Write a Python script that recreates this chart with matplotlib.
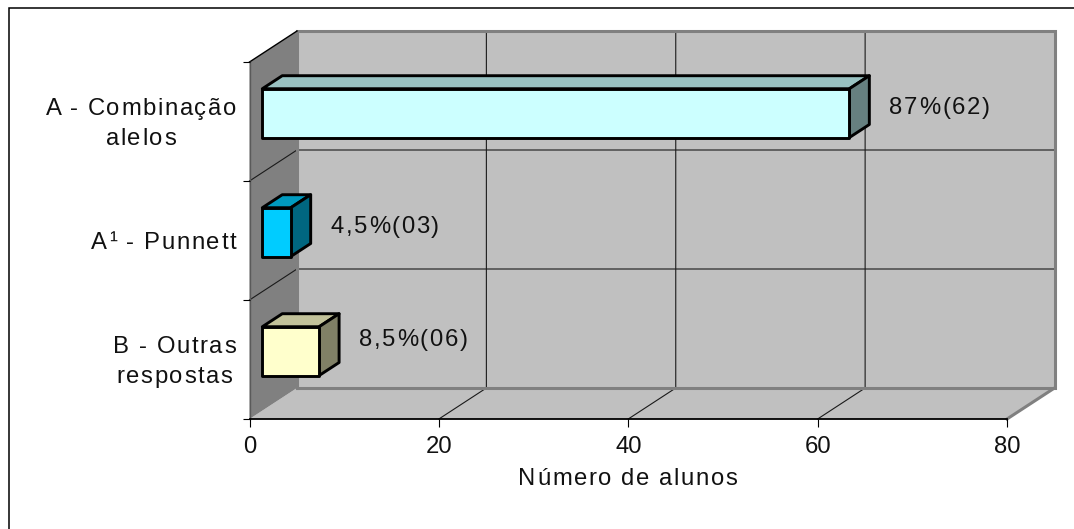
import matplotlib
matplotlib.use('Agg')
import matplotlib.pyplot as plt
from matplotlib.patches import Polygon, Rectangle
from matplotlib.text import Text
from matplotlib.transforms import IdentityTransform, ScaledTranslation

# chart data
categories = ['A - Combinação\nalelos', 'A¹ - Punnett', 'B - Outras\nrespostas']
counts = [62, 3, 6]
value_labels = ['87%(62)', '4,5%(03)', '8,5%(06)']
x_ticks = [0, 20, 40, 60, 80]
x_label = 'Número de alunos'

# colours per bar: front, top, side
front_colors = ['#CCFFFF', '#00CCFF', '#FFFFCC']
top_colors = ['#99C2C2', '#009ABF', '#C2C29A']
side_colors = ['#668080', '#006680', '#808066']

WIDTH, HEIGHT = 1074, 529
X_MAX = 80
N_CAT = len(categories)

# front plane of the 3D box, in pixels
LEFT, RIGHT, TOP, BOTTOM = 249.5, 1007.0, 62.0, 419.0
PX_X = (RIGHT - LEFT) / X_MAX
PX_Y = (BOTTOM - TOP) / N_CAT

# oblique depth of the whole box, converted to data units
DEPTH_X = 47.5 / PX_X
DEPTH_Y = 31.0 / PX_Y

BAR_HEIGHT = 0.41
BAR_D0, BAR_D1 = 0.27, 0.69

plt.rcParams['font.family'] = ['Liberation Sans', 'DejaVu Sans']
FONT_SIZE = 17.2
TEXT = '#111111'
TRACKING = 1.6  # extra pixels between letters
LINE_STEP = 30  # pixels between lines of a label


class SpacedText(Text):
    """Text drawn with extra letter spacing; lines are centred in their block."""

    def draw(self, renderer):
        ax_x, ax_y = self.get_transform().transform(self.get_unitless_position())
        size_px = self.get_fontsize() * self.figure.dpi / 72
        prop = self.get_fontproperties()

        def advance(s):
            return renderer.get_text_width_height_descent(s, prop, False)[0] if s else 0

        lines = self.get_text().split('\n')
        widths = [advance(ln) + TRACKING * (len(ln) - 1) for ln in lines]
        block = max(widths)
        start = {'left': ax_x, 'center': ax_x - block / 2, 'right': ax_x - block}[self.get_ha()]
        for n, (ln, w) in enumerate(zip(lines, widths)):
            base = ax_y + ((len(lines) - 1) / 2 - n) * LINE_STEP - 0.36 * size_px
            x0 = start + (block - w) / 2
            for k, ch in enumerate(ln):
                # spaces still take part in the prefix width, nothing to draw for them
                if ch == ' ':
                    continue
                glyph = Text(x0 + advance(ln[:k + 1]) - advance(ch) + TRACKING * k, base, ch,
                             transform=IdentityTransform(), fontproperties=prop,
                             color=self.get_color(), va='baseline', ha='left')
                glyph.set_figure(self.figure)
                glyph.draw(renderer)


def spaced_label(ax, xy, s, dx=0, dy=0, ha='left'):
    """Add a letter-spaced label at a data point, shifted by dx, dy pixels."""
    trans = ax.transData + ScaledTranslation(dx / 100, dy / 100, ax.figure.dpi_scale_trans)
    label = SpacedText(xy[0], xy[1], s, transform=trans, ha=ha, va='center', color=TEXT,
                       fontsize=FONT_SIZE, clip_on=False, zorder=4)
    ax.add_artist(label)
    return label


def oblique(x, y, d):
    """Project a data point onto the plane at depth d (0 front, 1 back)."""
    return (x + d * DEPTH_X, y - d * DEPTH_Y)


def face(ax, points, color, edge='none', lw=0, z=2):
    ax.add_patch(Polygon(points, closed=True, facecolor=color, edgecolor=edge,
                         linewidth=lw, joinstyle='round', clip_on=False, zorder=z))


fig = plt.figure(figsize=(WIDTH / 100, HEIGHT / 100), dpi=100, facecolor='white')

# outer chart border runs off the right and bottom of the figure
fig.add_artist(Rectangle((9 / WIDTH, -0.1), 1.1, 1.1 - 8 / HEIGHT, transform=fig.transFigure,
                         facecolor='none', edgecolor='black', linewidth=1.1))

ax = fig.add_axes([LEFT / WIDTH, 1 - BOTTOM / HEIGHT, (RIGHT - LEFT) / WIDTH, (BOTTOM - TOP) / HEIGHT])
ax.set_xlim(0, X_MAX)
ax.set_ylim(N_CAT, 0)
ax.patch.set_visible(False)
for name in ('top', 'right', 'left'):
    ax.spines[name].set_visible(False)
ax.spines['bottom'].set_linewidth(1.3)
ax.spines['bottom'].set_zorder(1.5)

# walls and floor
wall_gray = '#C0C0C0'
edge_gray = '#808080'
face(ax, [oblique(0, 0, 1), oblique(X_MAX, 0, 1), oblique(X_MAX, N_CAT, 1), oblique(0, N_CAT, 1)],
     wall_gray, z=0.5)
face(ax, [oblique(0, N_CAT, 0), oblique(X_MAX, N_CAT, 0), oblique(X_MAX, N_CAT, 1), oblique(0, N_CAT, 1)],
     wall_gray, z=0.5)
face(ax, [oblique(0, 0, 0), oblique(0, 0, 1), oblique(0, N_CAT, 1), oblique(0, N_CAT, 0)],
     edge_gray, z=0.6)

# grid lines, running across the floor and up the back wall
for t in x_ticks[1:-1]:
    xs, ys = zip(oblique(t, N_CAT, 0), oblique(t, N_CAT, 1), oblique(t, 0, 1))
    ax.plot(xs, ys, color='#1a1a1a', lw=0.8, clip_on=False, zorder=1)
for i in range(1, N_CAT):
    xs, ys = zip(oblique(0, i, 0), oblique(0, i, 1), oblique(X_MAX, i, 1))
    ax.plot(xs, ys, color='#1a1a1a', lw=0.8, clip_on=False, zorder=1)

# back wall outline and box edges
xs, ys = zip(oblique(0, N_CAT, 1), oblique(0, 0, 1), oblique(X_MAX, 0, 1), oblique(X_MAX, N_CAT, 1),
             oblique(0, N_CAT, 1))
ax.plot(xs, ys, color=edge_gray, lw=2.2, clip_on=False, zorder=1.2, solid_joinstyle='miter')
xs, ys = zip(oblique(X_MAX, N_CAT, 1), oblique(X_MAX, N_CAT, 0))
ax.plot(xs, ys, color=edge_gray, lw=2.2, clip_on=False, zorder=1.2)
xs, ys = zip(oblique(0, 0, 0), oblique(0, 0, 1))
ax.plot(xs, ys, color='black', lw=1.0, clip_on=False, zorder=1.3)
ax.plot([0, 0], [0, N_CAT], color='#5a5a5a', lw=1.0, clip_on=False, zorder=1.3)

# bars as oblique boxes
for i, count in enumerate(counts):
    y0 = i + 0.5 - BAR_HEIGHT / 2
    y1 = i + 0.5 + BAR_HEIGHT / 2
    kw = dict(edge='black', lw=2.1, z=3)
    face(ax, [oblique(0, y0, BAR_D0), oblique(count, y0, BAR_D0), oblique(count, y0, BAR_D1),
              oblique(0, y0, BAR_D1)], top_colors[i], **kw)
    face(ax, [oblique(count, y0, BAR_D0), oblique(count, y1, BAR_D0), oblique(count, y1, BAR_D1),
              oblique(count, y0, BAR_D1)], side_colors[i], **kw)
    face(ax, [oblique(0, y0, BAR_D0), oblique(count, y0, BAR_D0), oblique(count, y1, BAR_D0),
              oblique(0, y1, BAR_D0)], front_colors[i], **kw)

# value labels to the right of each bar
label_lift = [-5, -5, 1]
for i, (count, label) in enumerate(zip(counts, value_labels)):
    spaced_label(ax, oblique(count, i + 0.5, BAR_D1), label, dx=20, dy=label_lift[i])

ax.set_xticks(x_ticks)
ax.set_xticklabels([str(t) for t in x_ticks], fontsize=FONT_SIZE, color=TEXT)
ax.set_yticks(range(N_CAT + 1))
ax.set_yticklabels([''] * (N_CAT + 1))
ax.tick_params(axis='x', length=6, width=0.8, pad=6)
ax.tick_params(axis='y', length=5, width=0.8)

# category labels, right aligned with centred lines
for i, cat in enumerate(categories):
    spaced_label(ax, (0, i + 0.5), cat, dx=-13.5, dy=0, ha='right')

# axis title below the tick labels
spaced_label(ax, (X_MAX / 2, N_CAT), x_label, dx=-0.5, dy=-57, ha='center')

fig.savefig('out.png', dpi=100)
